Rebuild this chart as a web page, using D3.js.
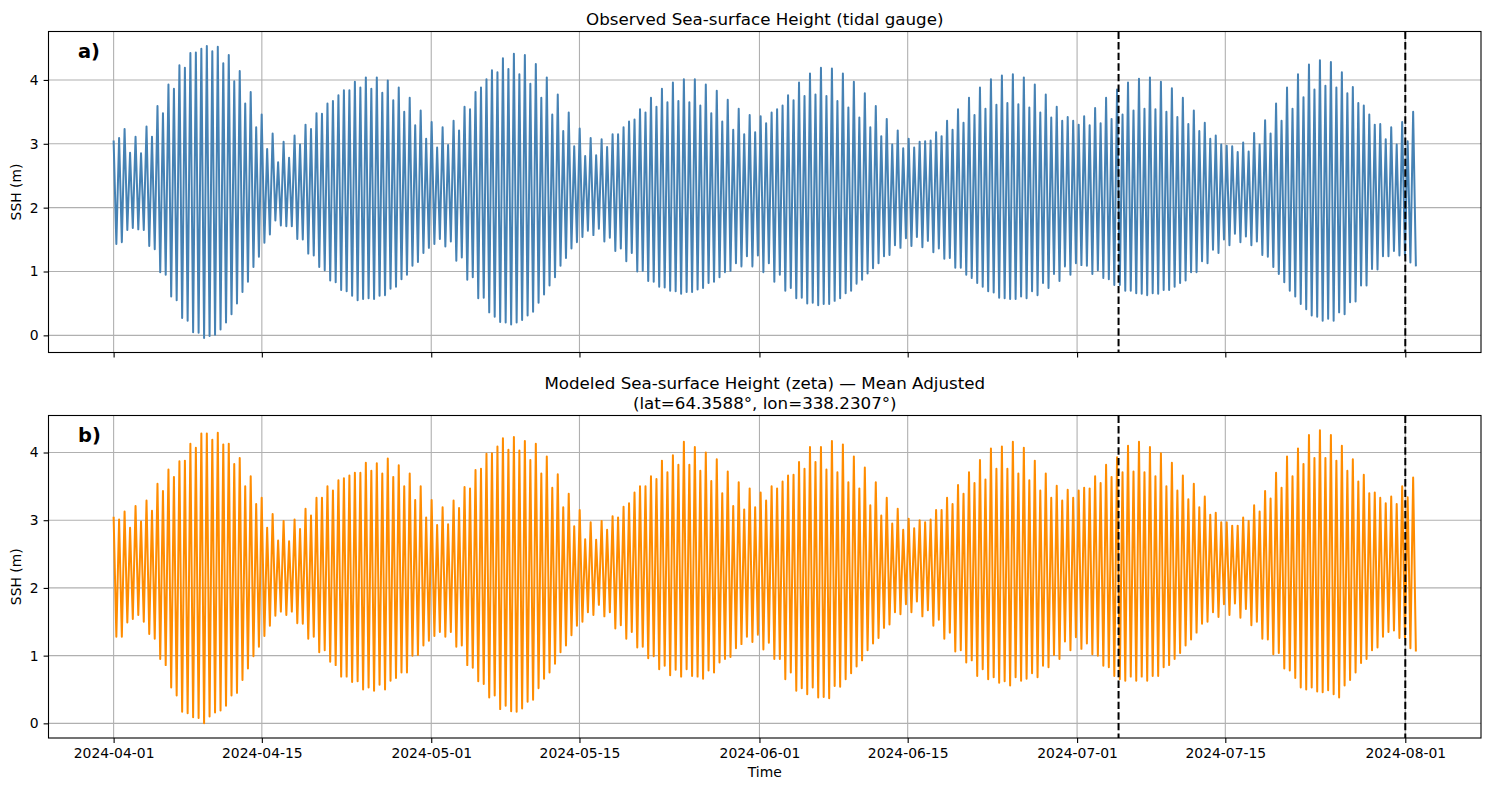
<!DOCTYPE html>
<html>
<head>
<meta charset="utf-8">
<script src="https://cdn.jsdelivr.net/npm/d3@7"></script>
<style>
  body { margin: 0; background: #fff; }
  svg { font-family: "DejaVu Sans", sans-serif; }
</style>
</head>
<body>
<div id="chart"></div>
<script>
// Observed tidal gauge: successive high waters and low waters (m)
const obsHigh = [
  3.05,3.09,3.23,2.86,3.11,2.85,3.27,3.11,3.59,3.48,3.93,3.86,4.23,4.19,4.42,4.43,4.49,4.53,4.45,4.52,4.26,4.39,3.98,4.14,3.63,3.81,3.26,3.46,2.92,3.16,2.71,3.03,2.78,3.13,2.99,3.30,3.23,3.48,3.47,3.63,3.67,3.76,3.84,3.84,3.97,3.88,4.04,3.86,
  4.04,3.80,3.99,3.68,3.88,3.50,3.72,3.29,3.52,3.08,3.34,2.94,3.26,2.98,3.36,3.21,3.58,3.54,3.81,3.88,4.01,4.15,4.12,4.34,4.17,4.41,4.09,4.39,3.94,4.25,3.72,4.04,3.46,3.77,3.20,3.49,2.96,3.24,2.81,3.09,2.82,3.07,2.95,3.15,3.15,3.26,3.35,
  3.38,3.54,3.49,3.72,3.58,3.86,3.65,3.96,3.67,4.01,3.65,4.01,3.60,3.93,3.48,3.83,3.35,3.69,3.22,3.55,3.15,3.45,3.18,3.43,3.32,3.49,3.54,3.60,3.76,3.68,3.96,3.75,4.10,3.77,4.19,3.75,4.18,3.67,4.10,3.57,3.97,3.41,3.79,3.26,3.59,3.12,3.39,
  2.99,3.21,2.93,3.08,2.94,3.03,3.04,3.05,3.18,3.12,3.36,3.22,3.54,3.33,3.72,3.45,3.88,3.55,4.01,3.61,4.07,3.64,4.09,3.62,4.04,3.57,3.93,3.49,3.77,3.41,3.58,3.36,3.42,3.36,3.30,3.43,3.29,3.56,3.32,3.72,3.39,3.85,3.46,3.96,3.52,4.02,3.55,4.04,
  3.54,3.97,3.50,3.87,3.42,3.72,3.31,3.52,3.20,3.33,3.08,3.13,2.99,2.97,2.96,2.87,3.02,2.88,3.17,2.99,3.37,3.16,3.63,3.36,3.88,3.55,4.09,3.73,4.24,3.85,4.31,3.91,4.28,3.88,4.12,3.79,3.89,3.64,3.60,3.46,3.30,3.31,3.07,3.26,2.99,3.34,3.04,3.50
];
const obsLow = [
  1.43,1.46,1.65,1.68,1.66,1.65,1.40,1.35,0.99,0.95,0.61,0.55,0.27,0.23,0.05,0.04,-0.04,-0.01,0.01,0.09,0.20,0.33,0.50,0.68,0.84,1.07,1.23,1.45,1.58,1.80,1.72,1.71,1.71,1.51,1.50,1.28,1.25,1.07,1.02,0.86,0.83,0.71,0.69,0.62,0.55,0.57,0.58,
  0.57,0.62,0.63,0.73,0.76,0.88,0.95,1.09,1.15,1.29,1.37,1.43,1.51,1.39,1.47,1.17,1.22,0.87,0.91,0.58,0.59,0.36,0.29,0.21,0.20,0.17,0.20,0.24,0.31,0.37,0.51,0.64,0.78,0.91,1.09,1.21,1.36,1.46,1.54,1.64,1.57,1.67,1.47,1.53,1.32,1.36,1.16,
  1.29,1.00,1.01,0.85,0.84,0.76,0.75,0.70,0.69,0.65,0.68,0.68,0.72,0.74,0.82,0.84,0.91,0.99,1.01,1.13,1.08,1.24,1.08,1.25,0.99,1.13,0.84,0.95,0.70,0.74,0.58,0.59,0.50,0.51,0.47,0.49,0.49,0.54,0.58,0.66,0.70,0.81,0.87,0.97,1.05,1.13,1.24,1.26,
  1.41,1.37,1.52,1.40,1.54,1.38,1.48,1.30,1.36,1.20,1.21,1.06,1.06,0.95,0.90,0.82,0.76,0.69,0.67,0.59,0.58,0.57,0.57,0.61,0.58,0.69,0.63,0.82,0.74,0.96,0.85,1.08,0.95,1.13,1.10,1.09,0.96,1.02,0.90,0.88,0.79,0.79,0.70,0.70,0.66,0.65,0.63,
  0.66,0.65,0.71,0.71,0.76,0.82,0.86,0.99,0.99,1.16,1.13,1.34,1.29,1.50,1.41,1.59,1.46,1.55,1.41,1.47,1.26,1.23,1.07,0.96,0.83,0.70,0.61,0.49,0.41,0.31,0.29,0.23,0.26,0.23,0.36,0.33,0.52,0.53,0.78,0.78,1.04,1.03,1.24,1.24,1.32,1.25,1.26,1.14,1.08
];

// Modeled zeta, mean adjusted: successive high waters and low waters (m)
const modHigh = [
  3.05,3.01,3.13,2.89,3.21,2.98,3.29,3.14,3.54,3.43,3.75,3.64,3.87,3.88,4.13,4.07,4.28,4.28,4.19,4.29,4.12,4.13,3.83,3.92,3.50,3.65,3.24,3.33,2.89,3.09,2.70,2.99,2.69,3.01,2.87,3.17,3.07,3.33,3.33,3.50,3.44,3.59,3.62,3.66,3.70,3.70,3.85,3.73,
  3.84,3.69,3.91,3.64,3.81,3.50,3.69,3.30,3.50,3.04,3.30,2.93,3.19,2.94,3.29,3.18,3.49,3.47,3.74,3.76,3.98,3.99,4.09,4.21,4.04,4.23,4.03,4.17,3.89,4.13,3.69,3.94,3.48,3.68,3.19,3.39,2.91,3.15,2.72,2.97,2.71,2.99,2.86,3.06,3.04,3.20,3.25,
  3.41,3.50,3.50,3.65,3.61,3.88,3.71,3.96,3.82,4.16,3.82,4.08,3.73,4.00,3.58,3.90,3.40,3.72,3.21,3.56,3.16,3.47,3.19,3.41,3.29,3.50,3.47,3.57,3.66,3.67,3.86,3.76,4.08,3.86,4.08,3.75,4.17,3.71,4.12,3.56,3.94,3.47,3.78,3.22,3.56,3.07,3.33,
  2.95,3.17,2.86,3.02,2.88,3.00,2.97,3.01,3.15,3.15,3.33,3.24,3.52,3.39,3.71,3.55,3.89,3.60,4.06,3.76,4.09,3.76,4.16,3.69,4.07,3.59,3.88,3.44,3.69,3.33,3.51,3.29,3.45,3.33,3.44,3.48,3.47,3.65,3.55,3.82,3.64,3.93,3.71,4.10,3.72,4.16,3.71,4.08,
  3.65,3.99,3.50,3.85,3.44,3.66,3.31,3.54,3.19,3.35,3.08,3.11,2.97,2.97,2.92,2.92,3.04,2.99,3.22,3.13,3.43,3.32,3.70,3.48,3.94,3.65,4.06,3.83,4.26,3.92,4.33,3.92,4.26,3.88,4.10,3.73,3.90,3.57,3.67,3.40,3.41,3.33,3.25,3.35,3.24,3.50,3.34,3.63
];
const modLow = [
  1.28,1.28,1.49,1.54,1.60,1.50,1.32,1.25,0.95,0.86,0.53,0.41,0.17,0.15,0.09,0.08,0.00,0.10,0.16,0.19,0.26,0.41,0.45,0.64,0.81,0.99,1.13,1.29,1.44,1.59,1.65,1.60,1.65,1.48,1.47,1.25,1.28,1.05,1.08,0.91,0.86,0.69,0.69,0.61,0.62,0.50,0.53,
  0.48,0.57,0.50,0.63,0.67,0.75,0.75,1.00,1.01,1.15,1.22,1.29,1.35,1.28,1.35,1.13,1.15,0.86,0.82,0.62,0.58,0.38,0.41,0.21,0.26,0.18,0.17,0.22,0.32,0.35,0.52,0.66,0.75,0.88,1.05,1.15,1.30,1.44,1.50,1.64,1.60,1.75,1.58,1.64,1.40,1.45,1.25,
  1.35,1.12,1.13,0.96,0.99,0.80,0.85,0.71,0.79,0.69,0.80,0.70,0.69,0.66,0.78,0.75,0.90,0.95,0.98,1.11,1.17,1.28,1.20,1.31,1.09,1.19,0.95,0.95,0.65,0.75,0.48,0.52,0.43,0.53,0.38,0.39,0.37,0.55,0.54,0.65,0.74,0.84,0.93,1.08,1.18,1.26,1.41,1.46,
  1.64,1.61,1.76,1.64,1.80,1.58,1.67,1.44,1.53,1.25,1.34,1.06,1.08,0.90,0.93,0.70,0.80,0.65,0.68,0.60,0.62,0.56,0.68,0.63,0.66,0.74,0.68,0.85,0.83,1.01,0.95,1.21,1.08,1.27,1.10,1.18,1.02,1.00,0.85,0.83,0.70,0.65,0.63,0.69,0.63,0.69,0.63,
  0.70,0.70,0.83,0.86,0.95,1.04,1.15,1.24,1.34,1.47,1.50,1.64,1.57,1.76,1.60,1.77,1.56,1.69,1.45,1.50,1.25,1.24,1.02,1.04,0.81,0.78,0.67,0.53,0.50,0.53,0.47,0.46,0.49,0.43,0.38,0.56,0.64,0.75,0.89,0.95,1.08,1.12,1.28,1.35,1.37,1.26,1.26,1.11,1.06
];

const seriesStart = "2024-04-01T00:00:00Z";
const seriesEnd = "2024-08-02T00:00:00Z";
const xTickDates = ["2024-04-01","2024-04-15","2024-05-01","2024-05-15","2024-06-01","2024-06-15","2024-07-01","2024-07-15","2024-08-01"];
const markerDates = ["2024-07-04T22:00:00Z","2024-08-01T00:00:00Z"];
const yTicks = [0, 1, 2, 3, 4];

const W = 1489, H = 789;
const left = 48.5, right = 1481;
const panels = [
  { top: 31.5, bottom: 352.5, high: obsHigh, low: obsLow, color: "#4682b4", tag: "a)",
    title: ["Observed Sea-surface Height (tidal gauge)"], showDates: false },
  { top: 415.5, bottom: 738, high: modHigh, low: modLow, color: "#ff8c00", tag: "b)",
    title: ["Modeled Sea-surface Height (zeta) \u2014 Mean Adjusted", "(lat=64.3588\u00b0, lon=338.2307\u00b0)"], showDates: true }
];

// Turn high/low lists into one tide record, extremes evenly spaced in time
function tideRecord(highs, lows) {
  const vals = [];
  for (let i = 0; i < highs.length; i++) {
    vals.push(highs[i]);
    if (i < lows.length) vals.push(lows[i]);
  }
  const t0 = new Date(seriesStart).getTime();
  const t1 = new Date(seriesEnd).getTime();
  const step = (t1 - t0) / (vals.length - 1);
  return vals.map((v, i) => ({ t: new Date(t0 + i * step), v: v }));
}

const t0 = new Date(seriesStart), t1 = new Date(seriesEnd);
const span = t1 - t0;
const x = d3.scaleUtc()
  .domain([new Date(+t0 - span * 0.05), new Date(+t1 + span * 0.05)])
  .range([left, right]);

const svg = d3.select("#chart").append("svg")
  .attr("width", W).attr("height", H);

panels.forEach(p => {
  const data = tideRecord(p.high, p.low);
  const ext = d3.extent(data, d => d.v);
  const pad = (ext[1] - ext[0]) * 0.05;
  const y = d3.scaleLinear()
    .domain([ext[0] - pad, ext[1] + pad])
    .range([p.bottom, p.top]);

  const g = svg.append("g");

  // grid
  g.selectAll(".vgrid").data(xTickDates).enter().append("line")
    .attr("x1", d => x(new Date(d + "T00:00:00Z"))).attr("x2", d => x(new Date(d + "T00:00:00Z")))
    .attr("y1", p.top).attr("y2", p.bottom)
    .attr("stroke", "#b0b0b0").attr("stroke-width", 1.1);
  g.selectAll(".hgrid").data(yTicks).enter().append("line")
    .attr("x1", left).attr("x2", right)
    .attr("y1", d => y(d)).attr("y2", d => y(d))
    .attr("stroke", "#b0b0b0").attr("stroke-width", 1.1);

  // data
  const line = d3.line().x(d => x(d.t)).y(d => y(d.v));
  g.append("path").datum(data)
    .attr("d", line)
    .attr("fill", "none")
    .attr("stroke", p.color)
    .attr("stroke-width", 2)
    .attr("stroke-linejoin", "round");

  // dashed markers
  g.selectAll(".marker").data(markerDates).enter().append("line")
    .attr("x1", d => x(new Date(d))).attr("x2", d => x(new Date(d)))
    .attr("y1", p.top).attr("y2", p.bottom)
    .attr("stroke", "#000").attr("stroke-width", 2)
    .attr("stroke-dasharray", "7.4,3.2");

  // frame
  g.append("rect")
    .attr("x", left).attr("y", p.top)
    .attr("width", right - left).attr("height", p.bottom - p.top)
    .attr("fill", "none").attr("stroke", "#000").attr("stroke-width", 1.1);

  // y axis
  const yAxis = d3.axisLeft(y).tickValues(yTicks).tickFormat(d3.format("d"))
    .tickSize(4.9).tickPadding(4.9);
  const ya = g.append("g").attr("transform", `translate(${left},0)`).call(yAxis);
  ya.select(".domain").remove();
  ya.selectAll("text").attr("font-size", "13.9px").attr("font-family", "DejaVu Sans").attr("fill", "#000");
  ya.selectAll("line").attr("stroke", "#000").attr("stroke-width", 1.1);

  // x axis
  const xAxis = d3.axisBottom(x)
    .tickValues(xTickDates.map(d => new Date(d + "T00:00:00Z")))
    .tickSize(4.9).tickPadding(4.9)
    .tickFormat(p.showDates ? d3.utcFormat("%Y-%m-%d") : () => "");
  const xa = g.append("g").attr("transform", `translate(0,${p.bottom})`).call(xAxis);
  xa.select(".domain").remove();
  xa.selectAll("text").attr("font-size", "13.9px").attr("font-family", "DejaVu Sans").attr("fill", "#000");
  xa.selectAll("line").attr("stroke", "#000").attr("stroke-width", 1.1);

  // y label
  g.append("text")
    .attr("transform", `translate(21,${(p.top + p.bottom) / 2}) rotate(-90)`)
    .attr("text-anchor", "middle")
    .attr("font-size", "13.9px")
    .text("SSH (m)");

  // title
  const cx = (left + right) / 2;
  p.title.forEach((t, i) => {
    g.append("text")
      .attr("x", cx)
      .attr("y", p.top - 7 - (p.title.length - 1 - i) * 19.5)
      .attr("text-anchor", "middle")
      .attr("font-size", "16.7px")
      .text(t);
  });

  // panel tag
  g.append("text")
    .attr("x", 78).attr("y", p.top + 26)
    .attr("font-size", "19.4px").attr("font-weight", "bold")
    .text(p.tag);
});

svg.append("text")
  .attr("x", (left + right) / 2).attr("y", 777)
  .attr("text-anchor", "middle")
  .attr("font-size", "13.9px")
  .text("Time");
</script>
</body>
</html>
